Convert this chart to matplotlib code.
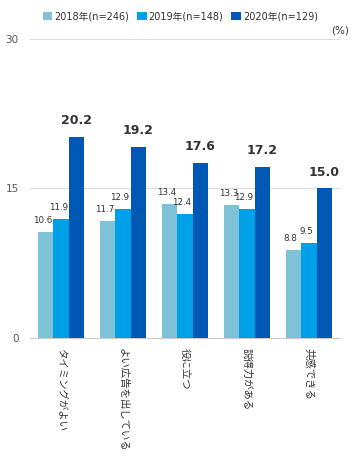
import matplotlib
matplotlib.use("Agg")
import matplotlib.pyplot as plt
import numpy as np

plt.rcParams["font.family"] = ["DejaVu Sans", "Noto Sans CJK JP"]

categories = ["タイミングがよい", "よい広告を出している", "役に立つ", "説得力がある", "共感できる"]
series_names = ["2018年(n=246)", "2019年(n=148)", "2020年(n=129)"]
v2018 = [10.6, 11.7, 13.4, 13.3, 8.8]
v2019 = [11.9, 12.9, 12.4, 12.9, 9.5]
v2020 = [20.2, 19.2, 17.6, 17.2, 15.0]
yticks = [0, 15, 30]

colors = ["#7fc1d6", "#00a0e9", "#0058b5"]


def main() -> None:
    fig = plt.figure(figsize=(3.6, 4.58), dpi=100)
    ax = fig.add_axes([0.083, 0.262, 0.861, 0.653])

    x = np.arange(len(categories))
    w = 0.25
    all_vals = [v2018, v2019, v2020]
    for i, (vals, name, col) in enumerate(zip(all_vals, series_names, colors)):
        pos = x + (i - 1) * w
        ax.bar(pos, vals, width=w, color=col, label=name, zorder=3)
        for px, v in zip(pos, vals):
            if i == 2:
                ax.annotate(f"{v:.1f}", (px, v), xytext=(0, 7), textcoords="offset points",
                            ha="center", va="bottom", fontsize=9, weight="bold", color="#333333")
            else:
                ax.annotate(f"{v:.1f}", (px, v), xytext=(-2, 5), textcoords="offset points",
                            ha="center", va="bottom", fontsize=6.3, color="#333333")

    ax.set_xlim(-0.5, len(categories) - 0.5)
    ax.set_ylim(0, 30)
    ax.set_yticks(yticks)
    ax.set_yticklabels([str(t) for t in yticks], fontsize=7.5, color="#555555")
    ax.tick_params(axis="y", length=0, pad=8)
    ax.grid(axis="y", color="#dddddd", linewidth=0.8, zorder=0)
    for s in ["top", "right", "left"]:
        ax.spines[s].set_visible(False)
    ax.spines["bottom"].set_color("#cccccc")

    ax.set_xticks(x)
    ax.set_xticklabels(categories, rotation=270, fontsize=7.5, color="#333333",
                       va="top", ha="center", family="Noto Sans CJK JP")
    ax.tick_params(axis="x", length=0, pad=7)

    ax.text(1.0, 1.01, "(%)", transform=ax.transAxes, fontsize=7.5, color="#333333",
            ha="center", va="bottom")

    ax.legend(loc="lower center", bbox_to_anchor=(0.485, 1.03), ncol=3, frameon=False,
              fontsize=7, handlelength=1.0, handleheight=1.0, handletextpad=0.2,
              columnspacing=0.8, labelcolor="#333333")

    fig.savefig("out.png", dpi=100)
    plt.close(fig)


if __name__ == "__main__":
    main()
